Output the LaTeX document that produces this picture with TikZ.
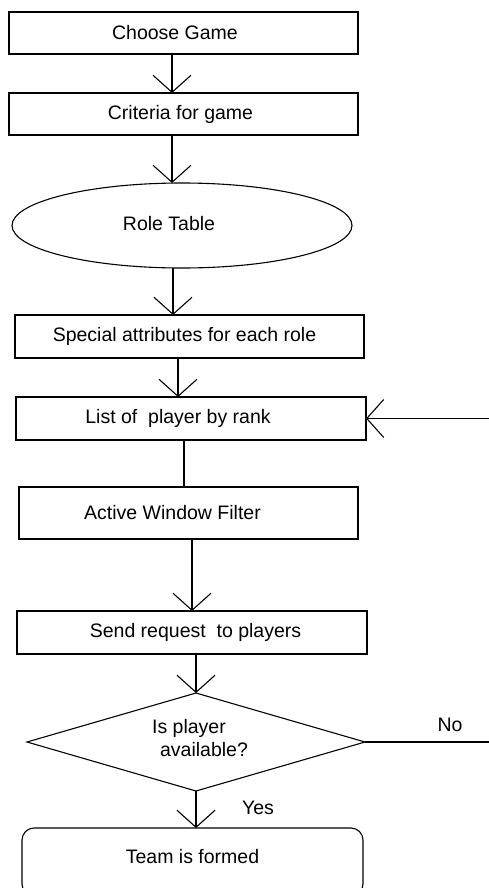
\documentclass[tikz,border=0pt]{standalone}
\usepackage{fontspec}
\setmainfont{Liberation Sans}
\usetikzlibrary{shapes.geometric,arrows.meta}
\tikzset{
 conn/.style={line width=1.1pt, draw=black},
 box/.style={draw=black, line width=1.1pt, rectangle, inner sep=0pt, outer sep=0pt},
 shp/.style={draw=black, line width=1.1pt, inner sep=0pt, outer sep=0pt},
 txt/.style={font=\fontsize{19.5}{23}\selectfont, inner sep=0pt, text=black},
 arr/.style={line width=1.1pt, draw=black, -{Straight Barb[length=17pt,width=38pt,line width=1.1pt]}},
}
\begin{document}
\begin{tikzpicture}[x=1pt,y=-1pt]
\useasboundingbox (0,0) rectangle (489,888);
\clip (0,0) rectangle (489,888);
\node[box, minimum width=349pt, minimum height=42pt, label={[txt,xshift=-8.5pt]center:Choose Game}] (choose) at (183.5,33) {};
\node[box, minimum width=349pt, minimum height=42pt, label={[txt,xshift=-3pt]center:Criteria for game}] (criteria) at (183.5,114) {};
\node[shp, ellipse, minimum width=340pt, minimum height=85pt, label={[txt,xshift=-13pt,yshift=2pt]center:Role Table}] (role) at (182,225.5) {};
\node[box, minimum width=349pt, minimum height=43pt, label={[txt,xshift=-5pt]center:Special attributes for each role}] (special) at (189.5,336.5) {};
\node[box, minimum width=350pt, minimum height=43pt, label={[txt,xshift=-13pt]center:List of~ player by rank}] (list) at (191,418.5) {};
\node[box, minimum width=339pt, minimum height=52pt, label={[txt,xshift=-16pt]center:Active Window Filter}] (active) at (188.5,513) {};
\node[box, minimum width=350pt, minimum height=43pt, label={[txt,xshift=3.5pt]center:Send request~ to players}] (send) at (192,632.5) {};
\node[shp, diamond, minimum width=338pt, minimum height=98pt, label={[txt,align=left,xshift=4pt,yshift=3.5pt]center:{Is player\\\hspace*{8pt}available?}}] (avail) at (196,742) {};
\node[shp, rectangle, rounded corners=12pt, minimum width=341pt, minimum height=68pt, label={[txt,yshift=5pt]center:Team is formed}] (team) at (192.5,862) {};
\node[txt] (no) at (450,725) {No};
\node[txt] (yes) at (258,808) {Yes};
\coordinate (ein) at (489,418.5);
\coordinate (eno) at (489,742);
\draw[arr] ([xshift=-11.5pt]choose.south) -- ([xshift=-11.5pt]criteria.north);
\draw[arr] ([xshift=-11.5pt]criteria.south) -- ([xshift=-10pt]role.north);
\draw[arr] ([xshift=-9pt]role.south) -- ([xshift=-16.5pt]special.north);
\draw[arr] ([xshift=-11.5pt]special.south) -- ([xshift=-13pt]list.north);
\draw[conn] ([xshift=-7pt]list.south) -- ([xshift=-4.5pt]active.north);
\draw[arr] ([xshift=3.5pt]active.south) -- (send.north);
\draw[arr] ([xshift=4pt]send.south) -- (avail.north);
\draw[arr] (avail.south) -- ([xshift=3.5pt]team.north);
\draw[arr] (ein) -- (list.east);
\draw[conn] (avail.east) -- (eno);
\end{tikzpicture}
\end{document}
